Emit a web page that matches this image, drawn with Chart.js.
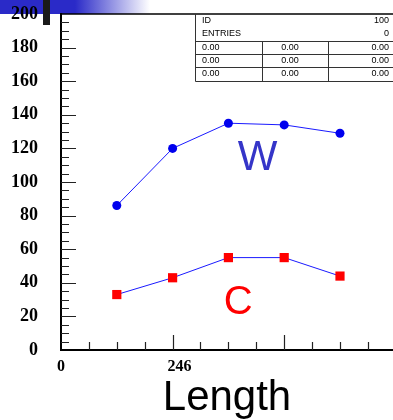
<!DOCTYPE html>
<html>
<head>
<meta charset="utf-8">
<script src="https://cdn.jsdelivr.net/npm/chart.js@4"></script>
<style>
  html, body { margin: 0; padding: 0; background: #fff; }
  canvas { display: block; }
</style>
</head>
<body>
<canvas id="grafico" width="393" height="420"></canvas>
<script>
// datos
const posiciones = [2, 4, 6, 8, 10];
const valoresW = [86, 120, 135, 134, 129];
const valoresC = [33, 43, 55, 55, 44];
const etiquetasX = { 0: '0', 4.25: '246' };
const filasStats = [['0.00', '0.00', '0.00'], ['0.00', '0.00', '0.00'], ['0.00', '0.00', '0.00']];
const statsId = '100';
const statsEntries = '0';

const sans = '"Liberation Sans", Arial, sans-serif';
const serifFam = '"Liberation Serif", "Times New Roman", serif';

// fondo del encabezado (barra azul con degradado)
const fondo = {
  id: 'fondo',
  beforeDraw(chart) {
    const c = chart.ctx;
    c.save();
    c.fillStyle = '#fff';
    c.fillRect(0, 0, chart.width, chart.height);
    const g = c.createLinearGradient(0, 0, 150, 0);
    g.addColorStop(0, '#2a2ac8');
    g.addColorStop(0.5, '#2a2ac8');
    g.addColorStop(1, 'rgba(255,255,255,1)');
    c.fillStyle = g;
    c.fillRect(0, 0, 150, 14);
    c.fillStyle = '#1a1a1a';
    c.fillRect(43, 0, 7, 25);
    c.restore();
  }
};

// marcas hacia adentro, borde superior, caja de estadísticas y letras
const extras = {
  id: 'extras',
  afterDraw(chart) {
    const c = chart.ctx;
    const { left, right, top, bottom } = chart.chartArea;
    const sx = chart.scales.x, sy = chart.scales.y;
    c.save();
    c.strokeStyle = '#222';
    c.lineWidth = 1.2;
    c.beginPath();
    for (let v = 5; v < 200; v += 5) {
      const y = Math.round(sy.getPixelForValue(v)) + 0.5;
      const len = v % 20 === 0 ? 15 : 8;
      c.moveTo(left, y); c.lineTo(left + len, y);
    }
    for (let v = 1; v <= 11; v++) {
      const x = Math.round(sx.getPixelForValue(v)) + 0.5;
      const len = v % 4 === 0 ? 15 : 8;
      c.moveTo(x, bottom); c.lineTo(x, bottom - len);
    }
    c.stroke();

    c.strokeStyle = '#000';
    c.lineWidth = 1.5;
    c.beginPath();
    c.moveTo(left, top); c.lineTo(right, top);
    c.stroke();

    // caja de estadísticas
    const bx = 195.5, bTop = top, bR = right;
    const filas = [41, 54, 67, 81];
    c.lineWidth = 1;
    c.strokeStyle = '#333';
    c.beginPath();
    c.moveTo(bx, bTop); c.lineTo(bx, filas[3] + 0.5);
    c.lineTo(bR, filas[3] + 0.5);
    filas.slice(0, 3).forEach(y => { c.moveTo(bx, y + 0.5); c.lineTo(bR, y + 0.5); });
    c.moveTo(262.5, filas[0]); c.lineTo(262.5, filas[3]);
    c.moveTo(328.5, filas[0]); c.lineTo(328.5, filas[3]);
    c.stroke();

    c.fillStyle = '#000';
    c.font = '9px ' + sans;
    c.textBaseline = 'middle';
    c.textAlign = 'left';
    c.fillText('ID', 202, 21);
    c.fillText('ENTRIES', 202, 34);
    c.textAlign = 'right';
    c.fillText(statsId, 389, 21);
    c.fillText(statsEntries, 389, 34);
    filasStats.forEach((fila, i) => {
      const y = filas[i] + 7;
      c.textAlign = 'left'; c.fillText(fila[0], 202, y);
      c.textAlign = 'center'; c.fillText(fila[1], 290, y);
      c.textAlign = 'right'; c.fillText(fila[2], 389, y);
    });

    // etiquetas de las series
    c.textAlign = 'center';
    c.textBaseline = 'alphabetic';
    c.font = '42px ' + sans;
    c.fillStyle = '#3535c8';
    c.fillText('W', sx.getPixelForValue(7.05), sy.getPixelForValue(107));
    c.font = '40px ' + sans;
    c.fillStyle = '#ff0000';
    c.fillText('C', sx.getPixelForValue(6.35), sy.getPixelForValue(21.5));
    c.restore();
  }
};

new Chart(document.getElementById('grafico'), {
  type: 'scatter',
  data: {
    datasets: [
      {
        label: 'W',
        data: posiciones.map((x, i) => ({ x, y: valoresW[i] })),
        showLine: true,
        borderColor: '#1a1aff',
        borderWidth: 1,
        pointStyle: 'circle',
        pointRadius: 4.5,
        pointBackgroundColor: '#0000ee',
        pointBorderWidth: 0
      },
      {
        label: 'C',
        data: posiciones.map((x, i) => ({ x, y: valoresC[i] })),
        showLine: true,
        borderColor: '#1a1aff',
        borderWidth: 1,
        pointStyle: 'rect',
        pointRadius: 6.5,
        pointBackgroundColor: '#ff0000',
        pointBorderWidth: 0
      }
    ]
  },
  options: {
    responsive: false,
    animation: false,
    layout: { autoPadding: false, padding: { top: 14, right: 0, left: 0, bottom: 0 } },
    plugins: { legend: { display: false }, tooltip: { enabled: false } },
    scales: {
      x: {
        type: 'linear',
        min: 0,
        max: 11.9,
        afterFit(scale) {
          scale.height = 70;
          scale.paddingLeft = 0;
          scale.paddingRight = 0;
        },
        grid: { display: false, drawTicks: false },
        border: { display: true, color: '#000', width: 2 },
        ticks: {
          stepSize: 0.25,
          autoSkip: false,
          maxRotation: 0,
          padding: 7,
          color: '#000',
          font: { family: serifFam, size: 16, weight: 'bold' },
          callback: v => etiquetasX[v] || ''
        },
        title: {
          display: true,
          text: 'Length',
          color: '#000',
          font: { family: sans, size: 42 },
          padding: { top: 0, bottom: -4 }
        }
      },
      y: {
        min: 0,
        max: 200,
        afterFit(scale) {
          scale.width = 61;
          scale.paddingTop = 0;
          scale.paddingBottom = 0;
        },
        grid: { display: false, drawTicks: false },
        border: { display: true, color: '#000', width: 2 },
        ticks: {
          stepSize: 20,
          padding: 23,
          color: '#000',
          font: { family: serifFam, size: 18, weight: 'bold' }
        }
      }
    }
  },
  plugins: [fondo, extras]
});
</script>
</body>
</html>
